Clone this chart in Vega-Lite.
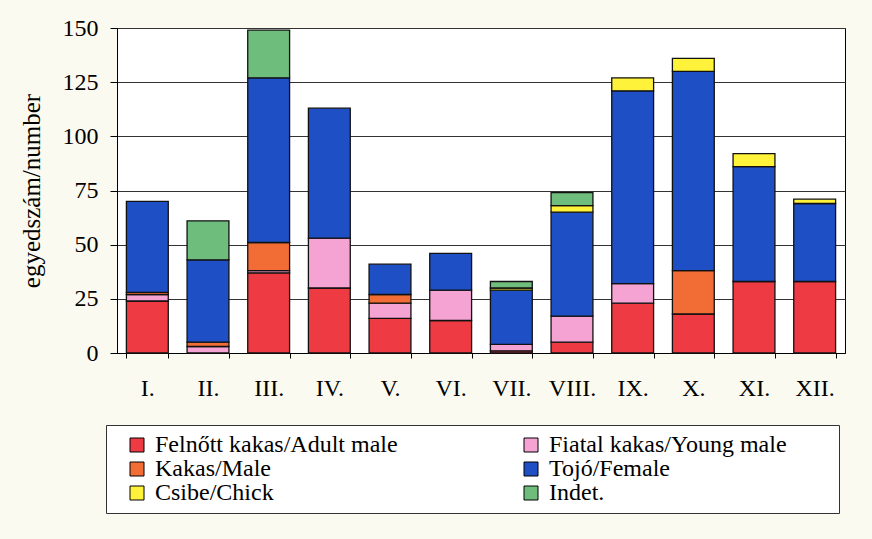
{
  "$schema": "https://vega.github.io/schema/vega-lite/v6.json",
  "width": 728,
  "height": 325,
  "autosize": "none",
  "padding": {"left": 117, "top": 28, "right": 27, "bottom": 186},
  "background": "#fbfaf0",
  "config": {
    "view": {"fill": "white", "stroke": "black", "strokeWidth": 1},
    "font": "Liberation Serif",
    "legend": {"labelFont": "Liberation Serif", "labelFontSize": 24, "labelColor": "black"},
    "axis": {"labelFont": "Liberation Serif", "titleFont": "Liberation Serif"}
  },
  "data": {
    "values": [
      {"month": "I.", "cat": "Felnőtt kakas/Adult male", "count": 24},
      {"month": "I.", "cat": "Fiatal kakas/Young male", "count": 3},
      {"month": "I.", "cat": "Kakas/Male", "count": 1},
      {"month": "I.", "cat": "Tojó/Female", "count": 42},
      {"month": "II.", "cat": "Fiatal kakas/Young male", "count": 3},
      {"month": "II.", "cat": "Kakas/Male", "count": 2},
      {"month": "II.", "cat": "Tojó/Female", "count": 38},
      {"month": "II.", "cat": "Indet.", "count": 18},
      {"month": "III.", "cat": "Felnőtt kakas/Adult male", "count": 37},
      {"month": "III.", "cat": "Fiatal kakas/Young male", "count": 1},
      {"month": "III.", "cat": "Kakas/Male", "count": 13},
      {"month": "III.", "cat": "Tojó/Female", "count": 76},
      {"month": "III.", "cat": "Indet.", "count": 22},
      {"month": "IV.", "cat": "Felnőtt kakas/Adult male", "count": 30},
      {"month": "IV.", "cat": "Fiatal kakas/Young male", "count": 23},
      {"month": "IV.", "cat": "Tojó/Female", "count": 60},
      {"month": "V.", "cat": "Felnőtt kakas/Adult male", "count": 16},
      {"month": "V.", "cat": "Fiatal kakas/Young male", "count": 7},
      {"month": "V.", "cat": "Kakas/Male", "count": 4},
      {"month": "V.", "cat": "Tojó/Female", "count": 14},
      {"month": "VI.", "cat": "Felnőtt kakas/Adult male", "count": 15},
      {"month": "VI.", "cat": "Fiatal kakas/Young male", "count": 14},
      {"month": "VI.", "cat": "Tojó/Female", "count": 17},
      {"month": "VII.", "cat": "Felnőtt kakas/Adult male", "count": 1},
      {"month": "VII.", "cat": "Fiatal kakas/Young male", "count": 3},
      {"month": "VII.", "cat": "Tojó/Female", "count": 25},
      {"month": "VII.", "cat": "Csibe/Chick", "count": 1},
      {"month": "VII.", "cat": "Indet.", "count": 3},
      {"month": "VIII.", "cat": "Felnőtt kakas/Adult male", "count": 5},
      {"month": "VIII.", "cat": "Fiatal kakas/Young male", "count": 12},
      {"month": "VIII.", "cat": "Tojó/Female", "count": 48},
      {"month": "VIII.", "cat": "Csibe/Chick", "count": 3},
      {"month": "VIII.", "cat": "Indet.", "count": 6},
      {"month": "IX.", "cat": "Felnőtt kakas/Adult male", "count": 23},
      {"month": "IX.", "cat": "Fiatal kakas/Young male", "count": 9},
      {"month": "IX.", "cat": "Tojó/Female", "count": 89},
      {"month": "IX.", "cat": "Csibe/Chick", "count": 6},
      {"month": "X.", "cat": "Felnőtt kakas/Adult male", "count": 18},
      {"month": "X.", "cat": "Kakas/Male", "count": 20},
      {"month": "X.", "cat": "Tojó/Female", "count": 92},
      {"month": "X.", "cat": "Csibe/Chick", "count": 6},
      {"month": "XI.", "cat": "Felnőtt kakas/Adult male", "count": 33},
      {"month": "XI.", "cat": "Tojó/Female", "count": 53},
      {"month": "XI.", "cat": "Csibe/Chick", "count": 6},
      {"month": "XII.", "cat": "Felnőtt kakas/Adult male", "count": 33},
      {"month": "XII.", "cat": "Tojó/Female", "count": 36},
      {"month": "XII.", "cat": "Csibe/Chick", "count": 2}
    ]
  },
  "transform": [
    {"calculate": "indexof(['Felnőtt kakas/Adult male', 'Fiatal kakas/Young male', 'Kakas/Male', 'Tojó/Female', 'Csibe/Chick', 'Indet.'], datum.cat)", "as": "stackRank"}
  ],
  "mark": {"type": "bar", "stroke": "#111", "strokeWidth": 1.3},
  "encoding": {
    "x": {
      "field": "month",
      "type": "ordinal",
      "sort": ["I.", "II.", "III.", "IV.", "V.", "VI.", "VII.", "VIII.", "IX.", "X.", "XI.", "XII."],
      "scale": {"paddingInner": 0.31, "paddingOuter": 0.155},
      "axis": {
        "title": null,
        "labelAngle": 0,
        "labelFontSize": 24,
        "labelColor": "black",
        "tickBand": "extent",
        "tickSize": 5,
        "tickColor": "black",
        "labelPadding": 18,
        "domainColor": "black"
      }
    },
    "y": {
      "field": "count",
      "type": "quantitative",
      "stack": "zero",
      "scale": {"domain": [0, 150], "nice": false},
      "axis": {
        "title": "egyedszám/number",
        "values": [0, 25, 50, 75, 100, 125, 150],
        "labelFontSize": 24,
        "labelColor": "black",
        "titleFontSize": 25,
        "titleFontWeight": "normal",
        "titleColor": "black",
        "titlePadding": 18,
        "grid": true,
        "gridColor": "#333",
        "gridWidth": 1,
        "tickSize": 7,
        "tickColor": "black",
        "labelPadding": 12,
        "domainColor": "black"
      }
    },
    "order": {"field": "stackRank", "type": "quantitative", "sort": "ascending"},
    "color": {
      "field": "cat",
      "type": "nominal",
      "sort": ["Felnőtt kakas/Adult male", "Fiatal kakas/Young male", "Kakas/Male", "Tojó/Female", "Csibe/Chick", "Indet."],
      "scale": {
        "domain": ["Felnőtt kakas/Adult male", "Fiatal kakas/Young male", "Kakas/Male", "Tojó/Female", "Csibe/Chick", "Indet."],
        "range": ["#ee3a43", "#f4a3d2", "#f26c35", "#1f4fc4", "#fff23a", "#6fbd7c"]
      },
      "legend": {
        "title": "\u00a0",
        "titleOrient": "right",
        "titleFontSize": 1,
        "titlePadding": 44,
        "orient": "none",
        "direction": "horizontal",
        "legendX": -11,
        "legendY": 397,
        "columns": 2,
        "columnPadding": 110,
        "rowPadding": 0,
        "symbolType": "square",
        "symbolSize": 196,
        "symbolOffset": 11,
        "symbolStrokeColor": "black",
        "symbolStrokeWidth": 1,
        "symbolOpacity": 1,
        "labelFontSize": 24,
        "labelFont": "Liberation Serif",
        "labelColor": "black",
        "labelOffset": 6,
        "labelLimit": 500,
        "padding": 8,
        "strokeColor": "#333",
        "fillColor": "white"
      }
    }
  }
}
